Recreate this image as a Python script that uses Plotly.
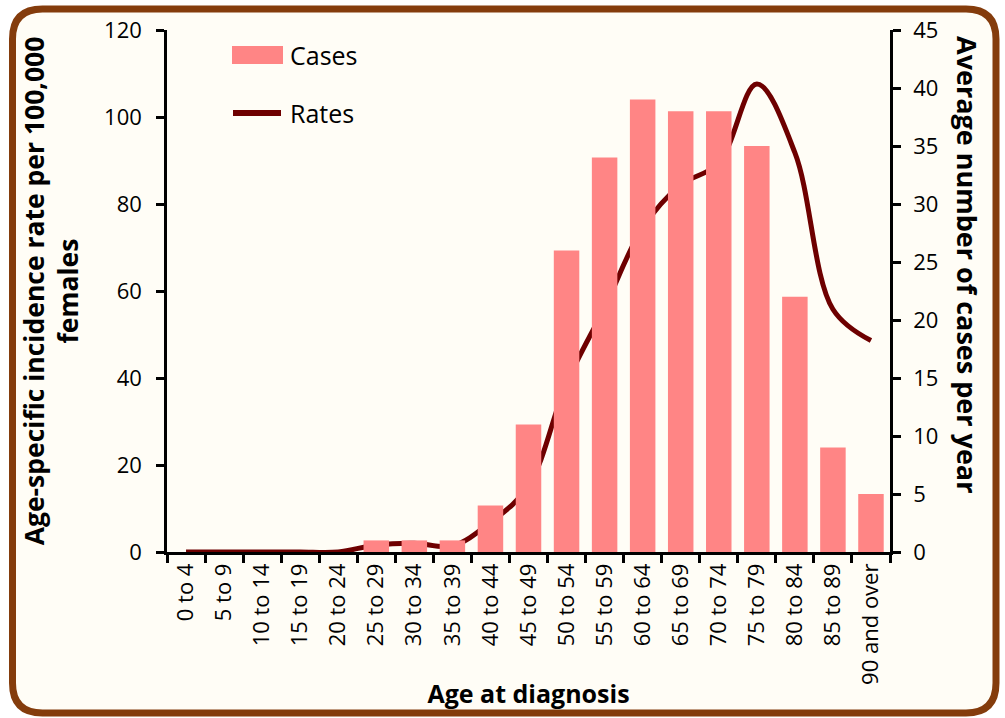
import plotly.graph_objects as go

categories = ["0 to 4", "5 to 9", "10 to 14", "15 to 19", "20 to 24", "25 to 29",
              "30 to 34", "35 to 39", "40 to 44", "45 to 49", "50 to 54", "55 to 59",
              "60 to 64", "65 to 69", "70 to 74", "75 to 79", "80 to 84", "85 to 89",
              "90 and over"]
cases = [0, 0, 0, 0, 0, 1, 1, 1, 4, 11, 26, 34, 39, 38, 38, 35, 22, 9, 5]
rates = [0, 0, 0, 0, 0, 1.6, 2.0, 1.4, 6.8, 15.2, 38.8, 56.2, 74.5, 84.4, 89.4, 107.6, 91.8, 55.8, 48.6]

left_ticks = [0, 20, 40, 60, 80, 100, 120]
right_ticks = [0, 5, 10, 15, 20, 25, 30, 35, 40, 45]

BAR = "#FF8585"
LINE = "#6E0000"
BORDER = "#843C0C"
BG = "#FFFDF6"
FONT = "Open Sans"

FW, FH = 1005, 718
L, R, T, B = 167, 115, 30, 166
PW, PH = FW - L - R, FH - T - B


def px(x):
    return (x - L) / PW


def py(y):
    return (FH - B - y) / PH


def rounded_rect(x0, y0, x1, y1, r):
    pts = [
        ("M", [(x0 + r, y0)]),
        ("L", [(x1 - r, y0)]),
        ("Q", [(x1, y0), (x1, y0 + r)]),
        ("L", [(x1, y1 - r)]),
        ("Q", [(x1, y1), (x1 - r, y1)]),
        ("L", [(x0 + r, y1)]),
        ("Q", [(x0, y1), (x0, y1 - r)]),
        ("L", [(x0, y0 + r)]),
        ("Q", [(x0, y0), (x0 + r, y0)]),
    ]
    s = ""
    for cmd, ps in pts:
        s += cmd + " ".join(f"{px(a):.5f},{py(b):.5f}" for a, b in ps)
    return s + "Z"


fig = go.Figure()
fig.add_trace(go.Bar(
    x=categories, y=cases, name="Cases", yaxis="y2",
    marker=dict(color=BAR, line=dict(width=0)), showlegend=False,
))
fig.add_trace(go.Scatter(
    x=categories, y=rates, name="Rates", yaxis="y", mode="lines",
    line=dict(color=LINE, width=5, shape="spline", smoothing=1.0), showlegend=False,
))

shapes = [
    dict(type="path", xref="paper", yref="paper", layer="below",
         path=rounded_rect(12.5, 9, 996, 713, 30),
         fillcolor=BG, line=dict(color=BORDER, width=7)),
    # legend swatches
    dict(type="rect", xref="paper", yref="paper", x0=px(232), x1=px(283), y0=py(64), y1=py(46),
         fillcolor=BAR, line=dict(width=0)),
    dict(type="line", xref="paper", yref="paper", x0=px(233), x1=px(281), y0=py(113), y1=py(113),
         line=dict(color=LINE, width=6)),
]

annotations = [
    dict(text="Cases", xref="paper", yref="paper", x=px(288), y=py(55), xanchor="left",
         yanchor="middle", showarrow=False, font=dict(family=FONT, size=25, color="black")),
    dict(text="Rates", xref="paper", yref="paper", x=px(288), y=py(113), xanchor="left",
         yanchor="middle", showarrow=False, font=dict(family=FONT, size=25, color="black")),
    dict(text="<b>Average number of cases per year</b>", xref="paper", yref="paper",
         x=px(968), y=py(264), xanchor="center", yanchor="middle", textangle=90,
         showarrow=False, font=dict(family=FONT, size=27, color="black")),
]

fig.update_layout(
    width=FW, height=FH,
    margin=dict(l=L, r=R, t=T, b=B, autoexpand=False),
    paper_bgcolor="white", plot_bgcolor="rgba(0,0,0,0)",
    bargap=0.33,
    font=dict(family=FONT, color="black"),
    shapes=shapes, annotations=annotations,
    xaxis=dict(
        type="category", tickson="boundaries", ticks="outside", ticklen=8, tickwidth=2.5,
        tickcolor="black", showline=True, linecolor="black", linewidth=2.5,
        tickangle=-90, tickfont=dict(size=22, family=FONT),
        showgrid=False, zeroline=False,
        title=dict(text="<b>Age at diagnosis</b>", font=dict(size=25, family=FONT), standoff=2),
    ),
    yaxis=dict(
        range=[0, 120], tickvals=left_ticks, ticks="outside", ticklen=8, tickwidth=2.5,
        tickcolor="black", showline=True, linecolor="black", linewidth=2.5,
        ticklabelstandoff=10,
        tickfont=dict(size=22, family=FONT), showgrid=False, zeroline=False,
        title=dict(text="<b>Age-specific incidence rate per 100,000<br>females</b>",
                   font=dict(size=26.5, family=FONT), standoff=18),
    ),
    yaxis2=dict(
        range=[0, 45], tickvals=right_ticks, overlaying="y", side="right",
        ticks="outside", ticklen=8, tickwidth=2.5, tickcolor="black",
        showline=True, linecolor="black", linewidth=2.5,
        ticklabelstandoff=8,
        tickfont=dict(size=22, family=FONT), showgrid=False, zeroline=False,
    ),
)

fig.write_html(
    "out.html",
    config={"displayModeBar": False},
    post_script="document.body.style.margin='0';document.body.style.padding='0';",
)
